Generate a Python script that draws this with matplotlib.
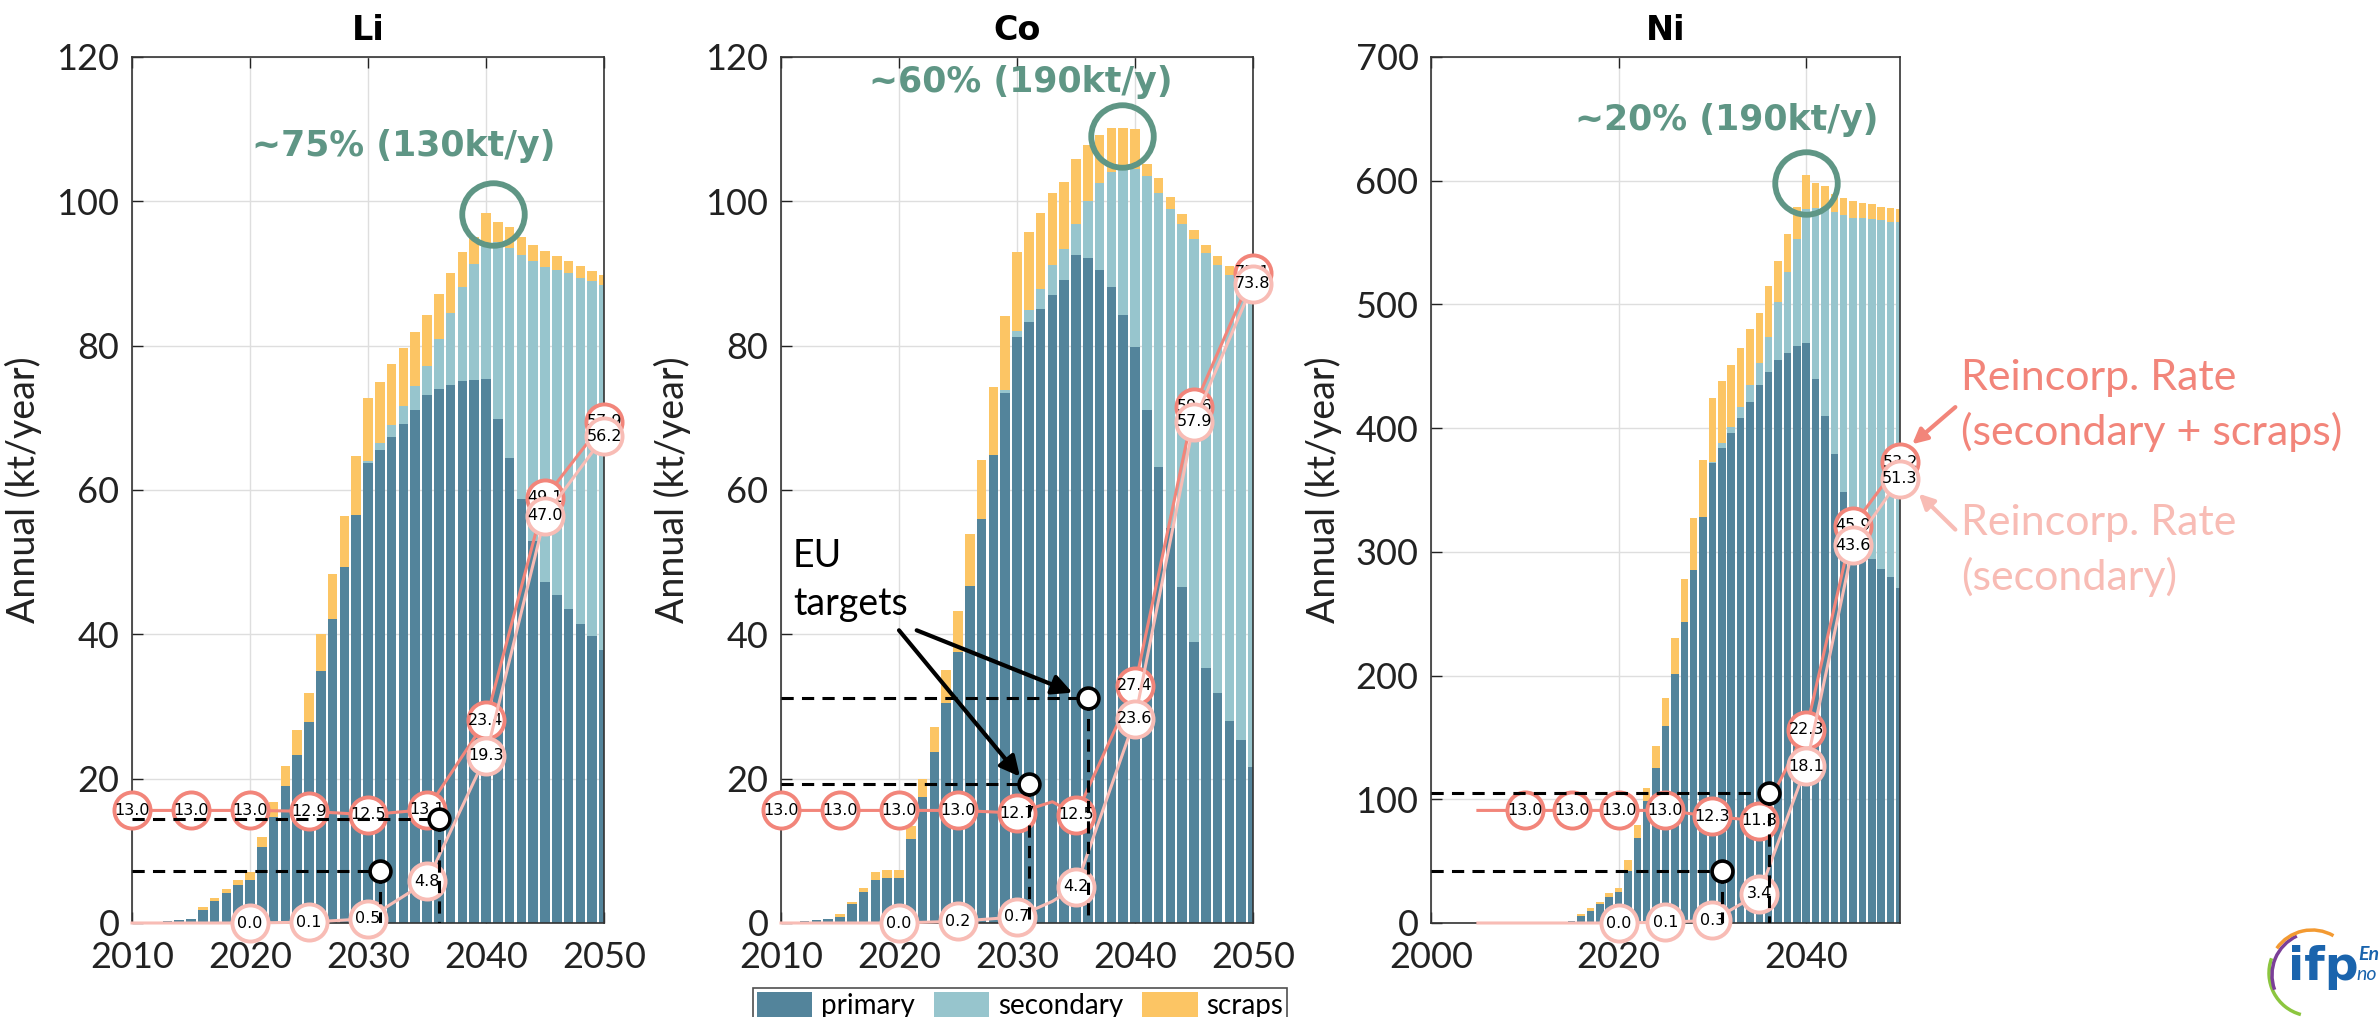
import matplotlib.pyplot as plt
import numpy as np
from matplotlib.patches import Arc

years = np.arange(2010, 2051)

# stacked bars (kt/year), one value per year 2010..2050
li_primary = [0.05, 0.1, 0.2, 0.3, 0.4, 0.5, 1.8, 3.0, 4.2, 5.2, 6.0, 10.5, 14.7, 19.0, 23.3, 27.8,
              34.9, 42.1, 49.3, 56.5, 63.8, 65.5, 67.3, 69.2, 71.1, 73.2, 74.0, 74.6, 75.1, 75.3, 75.4,
              69.8, 64.4, 58.7, 52.9, 47.3, 45.4, 43.5, 41.4, 39.8, 37.8]
li_secondary = [0] * 20 + [0.2, 1.0, 1.7, 2.5, 3.3, 4.0, 6.9, 9.9, 13.0, 16.0, 18.6,
                           24.6, 29.1, 33.8, 38.8, 43.6, 45.1, 46.6, 48.0, 49.1, 50.6]
li_scraps = [0, 0, 0, 0, 0, 0, 0.4, 0.4, 0.5, 0.7, 1.0, 1.4, 2.0, 2.7, 3.4, 4.1, 5.1, 6.2, 7.1, 8.2,
             8.7, 8.5, 8.4, 8.0, 7.5, 7.1, 6.2, 5.5, 4.9, 3.7, 4.4, 2.7, 2.9, 2.5, 2.2, 2.2, 1.9,
             1.6, 1.6, 1.5, 1.4]

co_primary = [0.1, 0.2, 0.3, 0.4, 0.5, 0.9, 2.6, 4.3, 6.0, 6.3, 6.3, 11.6, 17.4, 23.7, 30.5, 37.6,
              46.7, 56.0, 64.8, 73.5, 81.2, 83.3, 85.1, 87.0, 89.1, 92.6, 92.1, 90.5, 88.1, 84.3, 79.8,
              71.1, 63.2, 54.8, 46.6, 39.0, 35.4, 31.9, 28.0, 25.3, 21.6]
co_secondary = [0] * 19 + [0.4, 0.8, 1.7, 2.7, 4.2, 4.3, 4.2, 8.0, 12.0, 15.9, 20.2, 24.7,
                           32.4, 38.0, 44.2, 50.2, 55.8, 57.4, 59.3, 61.8, 63.2, 64.4]
co_scraps = [0, 0, 0, 0, 0, 0.3, 0.3, 0.5, 1.1, 1.1, 1.1, 1.8, 2.6, 3.5, 4.5, 5.7, 7.2, 8.2, 9.5,
             10.2, 11.0, 10.8, 10.6, 10.0, 9.3, 9.1, 7.7, 6.7, 6.2, 5.7, 5.5, 1.7, 2.0, 1.6, 1.4,
             1.2, 1.2, 1.2, 1.2, 1.3, 2.0]

ni_primary = [0, 0, 0.3, 0.5, 1, 2, 6, 10, 15, 21, 25, 42, 69, 99, 125, 159, 201, 243, 285, 328,
              372, 384, 396, 408, 421, 435, 445, 455, 461, 466, 469, 440, 410, 379, 348, 322, 305,
              294, 286, 280, 271]
ni_secondary = [0] * 20 + [1, 4, 5, 9, 14, 18, 29, 47, 65, 87, 108, 138, 168, 196, 224, 248,
                           265, 275, 282, 287, 296]
ni_scraps = [0, 0, 0, 0, 0, 0, 1, 2, 2, 3, 3, 9, 10, 10, 18, 23, 29, 35, 42, 46, 51, 50, 50, 48,
             45, 40, 41, 33, 31, 26, 28, 20, 18, 14, 14, 14, 12, 12, 11, 11, 10]

# reincorporation rates (%)
li_rate_years = [2010, 2015, 2020, 2025, 2030, 2035, 2040, 2045, 2050]
li_rate_all = [13.0, 13.0, 13.0, 12.9, 12.5, 13.1, 23.4, 49.1, 57.9]
li_rate_sec = [0.0, 0.0, 0.0, 0.1, 0.5, 4.8, 19.3, 47.0, 56.2]

co_rate_years = [2010, 2015, 2020, 2025, 2030, 2033, 2035, 2040, 2045, 2050]
co_rate_all = [13.0, 13.0, 13.0, 13.0, 12.7, 14.0, 12.5, 27.4, 59.6, 75.1]
co_rate_sec = [0.0, 0.0, 0.0, 0.2, 0.7, 2.5, 4.2, 23.6, 57.9, 73.8]

ni_rate_years = [2005, 2010, 2015, 2020, 2025, 2030, 2035, 2040, 2045, 2050]
ni_rate_all = [13.0, 13.0, 13.0, 13.0, 13.0, 12.3, 11.8, 22.3, 45.9, 53.2]
ni_rate_sec = [0.0, 0.0, 0.0, 0.0, 0.1, 0.3, 3.4, 18.1, 43.6, 51.3]

# EU recycled content targets (year, %)
target_years = [2031, 2036]
li_targets = [6, 12]
co_targets = [16, 26]
ni_targets = [6, 15]

PRIMARY = '#53849b'
SECONDARY = '#97c5cd'
SCRAPS = '#fcc564'
GREEN = '#5f9685'
SALMON = '#f2857a'
PINK = '#f8bcb5'

plt.rcParams['font.family'] = ['Lato', 'DejaVu Sans']

fig = plt.figure(figsize=(23.79, 10.17), dpi=100)
W, H = 2379, 1017


def panel(left, width, title, prim, sec, scr, ymax, ystep, xlim, xticks,
          rate_years, rate_all, rate_sec, targets, note, note_xy, ring_xy):
    ax = fig.add_axes([left / W, 1 - 923 / H, width / W, 866 / H])
    prim = np.array(prim, float)
    sec = np.array(sec, float)
    scr = np.array(scr, float)
    ax.bar(years, prim, 0.8, color=PRIMARY, label='primary', zorder=2)
    ax.bar(years, sec, 0.8, bottom=prim, color=SECONDARY, label='secondary', zorder=2)
    ax.bar(years, scr, 0.8, bottom=prim + sec, color=SCRAPS, label='scraps', zorder=2)
    ax.set_xlim(*xlim)
    ax.set_ylim(0, ymax)
    ax.set_xticks(xticks)
    ax.set_yticks(np.arange(0, ymax + 1, ystep))
    ax.grid(True, color='#dedede', lw=1)
    ax.set_axisbelow(True)
    ax.tick_params(direction='in', length=8, width=1, top=True, right=True,
                   labelsize=26, pad=9, colors='#222222')
    ax.tick_params(axis='x', pad=13)
    for s in ax.spines.values():
        s.set_linewidth(1.2)
        s.set_color('#333333')
    ax.set_title(title, fontsize=24, fontweight='bold', pad=12, family='DejaVu Sans')
    ax.set_ylabel('Annual (kt/year)', fontsize=27, color='#222222')
    ax.yaxis.set_label_coords(-0.19, 0.5)

    ax.text(note_xy[0], note_xy[1], note, ha='center', va='center', fontsize=25,
            fontweight='bold', color=GREEN, family='DejaVu Sans', clip_on=False, zorder=7)
    ax.plot([ring_xy[0]], [ring_xy[1]], 'o', ms=45, mfc='none', mec=GREEN, mew=4.2,
            clip_on=False, zorder=7)

    ax2 = ax.twinx()
    ax2.set_ylim(0, 100)
    ax2.axis('off')
    ry = np.array(rate_years)
    mk_all = (ry % 5 == 0) & (ry >= 2010)
    mk_sec = (ry % 5 == 0) & (ry >= 2020)
    ra = np.array(rate_all)
    rs = np.array(rate_sec)
    ax2.plot(ry, ra, color=SALMON, lw=2.2, zorder=3, clip_on=False)
    ax2.plot(ry[mk_all], ra[mk_all], 'o', ms=26, mfc='white', mec=SALMON, mew=2.8,
             zorder=3, clip_on=False)
    for x, v in zip(ry[mk_all], ra[mk_all]):
        ax2.text(x, v, f'{v:.1f}', ha='center', va='center', fontsize=11.5,
                 family='DejaVu Sans', zorder=4, clip_on=False)
    ax2.plot(ry, rs, color=PINK, lw=2.2, zorder=5, clip_on=False)
    ax2.plot(ry[mk_sec], rs[mk_sec], 'o', ms=26, mfc='white', mec=PINK, mew=2.8,
             zorder=5, clip_on=False)
    for x, v in zip(ry[mk_sec], rs[mk_sec]):
        ax2.text(x, v, f'{v:.1f}', ha='center', va='center', fontsize=11.5,
                 family='DejaVu Sans', zorder=6, clip_on=False)

    for tx, ty in zip(target_years, targets):
        ax2.plot([xlim[0], tx], [ty, ty], color='k', lw=2.2, dashes=(4, 2.7), zorder=8)
        ax2.plot([tx, tx], [ty, 0], color='k', lw=2.2, dashes=(4, 2.7), zorder=8)
        ax2.plot([tx], [ty], 'o', ms=15, mfc='white', mec='k', mew=2.6, zorder=9)
    return ax, ax2


ax_li, _ = panel(132, 472, 'Li', li_primary, li_secondary, li_scraps, 120, 20, (2010, 2050),
                 [2010, 2020, 2030, 2040, 2050], li_rate_years, li_rate_all, li_rate_sec,
                 li_targets, '~75% (130kt/y)', (2033.0, 107.7), (2040.6, 98.3))
ax_co, ax_co2 = panel(781, 472, 'Co', co_primary, co_secondary, co_scraps, 120, 20, (2010, 2050),
                      [2010, 2020, 2030, 2040, 2050], co_rate_years, co_rate_all, co_rate_sec,
                      co_targets, '~60% (190kt/y)', (2030.3, 116.6), (2038.9, 109.0))
ax_ni, ax_ni2 = panel(1431, 469, 'Ni', ni_primary, ni_secondary, ni_scraps, 700, 100, (2000, 2050),
                      [2000, 2020, 2040], ni_rate_years, ni_rate_all, ni_rate_sec,
                      ni_targets, '~20% (190kt/y)', (2031.5, 649), (2040.0, 598))

# EU targets callout on Co
ax_co.text(2011.0, 47.5, 'EU\ntargets', ha='left', va='center', fontsize=27,
           linespacing=1.4, color='k', zorder=9)
arrow = dict(arrowstyle='-|>', lw=3, mutation_scale=30, color='k', shrinkA=0, shrinkB=0)
ax_co2.annotate('', xy=(2030.25, 16.9), xytext=(2020.0, 33.8), arrowprops=arrow, zorder=9)
ax_co2.annotate('', xy=(2034.7, 26.6), xytext=(2021.5, 33.8), arrowprops=arrow, zorder=9)

# series callouts on Ni
ax_ni.text(2056.5, 418, 'Reincorp. Rate\n(secondary + scraps)', ha='left', va='center',
           fontsize=31, color=SALMON, linespacing=1.45, clip_on=False)
ax_ni.text(2056.5, 301, 'Reincorp. Rate\n(secondary)', ha='left', va='center',
           fontsize=31, color=PINK, linespacing=1.45, clip_on=False)
ax_ni.annotate('', xy=(2051.3, 387), xytext=(2055.9, 417), annotation_clip=False,
               arrowprops=dict(arrowstyle='-|>', lw=3, mutation_scale=22, color=SALMON,
                               shrinkA=0, shrinkB=0))
ax_ni.annotate('', xy=(2052.0, 347), xytext=(2055.9, 318), annotation_clip=False,
               arrowprops=dict(arrowstyle='-|>', lw=3, mutation_scale=22, color=PINK,
                               shrinkA=0, shrinkB=0))

handles, labels = ax_li.get_legend_handles_labels()
leg = fig.legend(handles, labels, loc='upper center', bbox_to_anchor=(1020 / W, 1 - 988 / H),
                 ncol=3, fontsize=20, frameon=True, fancybox=False, edgecolor='#222222',
                 handlelength=2.0, handleheight=1.0, columnspacing=0.7, handletextpad=0.3,
                 borderpad=0.15, borderaxespad=0)
leg.get_frame().set_linewidth(1.2)

# logo corner
lg = fig.add_axes([2250 / W, 0, 129 / W, 120 / H])
lg.set_xlim(2250, 2379)
lg.set_ylim(H, H - 120)
lg.axis('off')
lg.add_patch(Arc((2312, 973), 86, 86, theta1=105, theta2=200, color='#8cc63f', lw=2.5))
lg.add_patch(Arc((2315, 975), 86, 86, theta1=160, theta2=245, color='#7b3f98', lw=2.5))
lg.add_patch(Arc((2312, 973), 86, 86, theta1=215, theta2=300, color='#f39a32', lw=2.5))
lg.text(2288, 967, 'ifp', fontsize=34, fontweight='bold', color='#1a64ad',
        ha='left', va='center', family='DejaVu Sans')
lg.text(2358, 955, 'En', fontsize=14, fontstyle='italic', fontweight='bold', color='#1a64ad',
        ha='left', va='center')
lg.text(2356, 975, 'no', fontsize=14, fontstyle='italic', color='#1a64ad',
        ha='left', va='center')

fig.savefig('out.png', dpi=100)
